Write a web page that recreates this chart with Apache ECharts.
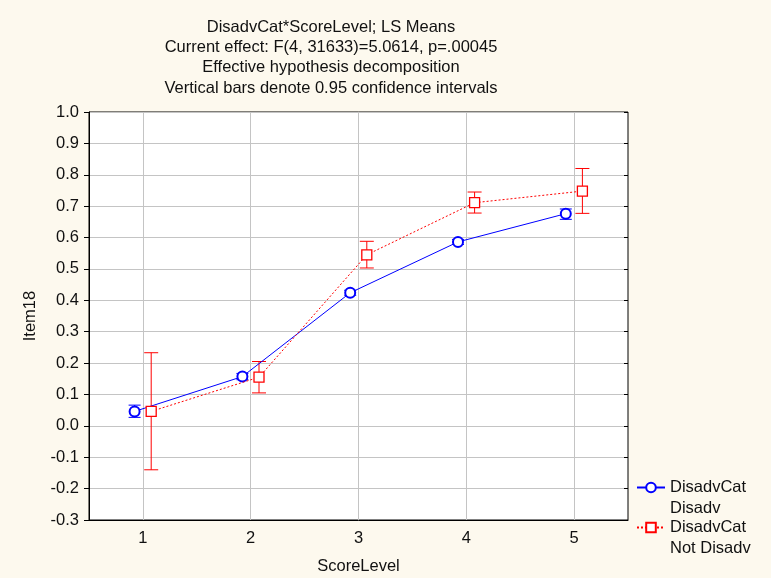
<!DOCTYPE html>
<html><head><meta charset="utf-8">
<script src="https://cdn.jsdelivr.net/npm/echarts@6/dist/echarts.min.js"></script>
<style>html,body{margin:0;padding:0;background:#fdf9ee}#c{width:771px;height:578px}</style>
</head><body><div id="c"></div>
<script>
const titleLines = [
  'DisadvCat*ScoreLevel; LS Means',
  'Current effect: F(4, 31633)=5.0614, p=.00045',
  'Effective hypothesis decomposition',
  'Vertical bars denote 0.95 confidence intervals'
];
const scoreLevels = [1, 2, 3, 4, 5];
const seriesNames = ['DisadvCat\nDisadv', 'DisadvCat\nNot Disadv'];
const disadvMean = [0.046, 0.157, 0.424, 0.586, 0.676];
const disadvLow = [0.027, 0.147, 0.416, 0.578, 0.658];
const disadvHigh = [0.066, 0.167, 0.432, 0.594, 0.691];
const notDisadvMean = [0.046, 0.155, 0.545, 0.711, 0.748];
const notDisadvLow = [-0.140, 0.105, 0.503, 0.678, 0.677];
const notDisadvHigh = [0.233, 0.205, 0.588, 0.745, 0.820];

const DODGE = 0.077;
const FONT = 'Liberation Sans, Arial, sans-serif';
const FS = 16.5;
const TXT = '#111';

function errRender(color, halfCap) {
  return function (params, api) {
    const x = api.value(0);
    const lo = api.coord([x, api.value(1)]);
    const hi = api.coord([x, api.value(2)]);
    const st = { stroke: color, lineWidth: 1 };
    return {
      type: 'group',
      children: [
        { type: 'line', shape: { x1: lo[0], y1: lo[1], x2: hi[0], y2: hi[1] }, style: st },
        { type: 'line', shape: { x1: lo[0] - halfCap, y1: lo[1], x2: lo[0] + halfCap, y2: lo[1] }, style: st },
        { type: 'line', shape: { x1: hi[0] - halfCap, y1: hi[1], x2: hi[0] + halfCap, y2: hi[1] }, style: st }
      ]
    };
  };
}

const chart = echarts.init(document.getElementById('c'));
chart.setOption({
  animation: false,
  backgroundColor: '#fdf9ee',
  title: {
    text: titleLines.join('\n'),
    left: 331, top: 17, padding: 0, textAlign: 'center',
    textStyle: { fontFamily: FONT, fontSize: FS, fontWeight: 'normal', color: TXT, lineHeight: 20.3 }
  },
  legend: {
    data: seriesNames,
    formatter: name => '\n' + name,
    orient: 'vertical', left: 636, top: 456, padding: 0,
    itemWidth: 28, itemHeight: 12, itemGap: -23,
    textStyle: { fontFamily: FONT, fontSize: FS, color: TXT, lineHeight: 21 }
  },
  grid: { left: 89, top: 112, right: 143, bottom: 58, outerBoundsMode: 'none', containLabel: false,
    show: true, backgroundColor: '#fff', borderColor: '#000', borderWidth: 1 },
  xAxis: [{
    type: 'value', min: 0.5, max: 5.5, position: 'bottom',
    name: 'ScoreLevel', nameLocation: 'middle', nameGap: 38,
    nameTextStyle: { fontFamily: FONT, fontSize: FS, color: TXT },
    axisLine: { show: true, onZero: false, lineStyle: { color: '#000' } },
    axisTick: { show: true, inside: true, length: 4, customValues: scoreLevels, lineStyle: { color: '#000' } },
    axisLabel: { customValues: scoreLevels, margin: 10, fontFamily: FONT, fontSize: FS, color: TXT },
    splitLine: { show: false }
  }, {
    type: 'value', min: 0.5, max: 5.5, position: 'top',
    axisLine: { show: false, onZero: false },
    axisTick: { show: true, inside: true, length: 4, customValues: scoreLevels, lineStyle: { color: '#000' } },
    axisLabel: { show: false },
    splitLine: { show: false }
  }],
  yAxis: [{
    type: 'value', min: -0.3, max: 1.0, interval: 0.1,
    name: 'Item18', nameLocation: 'middle', nameGap: 50,
    nameTextStyle: { fontFamily: FONT, fontSize: FS, color: TXT },
    axisLine: { show: true, onZero: false, lineStyle: { color: '#000' } },
    axisTick: { show: true, inside: false, length: 5, lineStyle: { color: '#000' } },
    axisLabel: { margin: 10, fontFamily: FONT, fontSize: FS, color: TXT,
      formatter: v => (Math.abs(v) < 1e-9 ? 0 : v).toFixed(1) },
    splitLine: { show: true, lineStyle: { color: '#c4c4c4', width: 1 } }
  }, {
    type: 'value', min: -0.3, max: 1.0, interval: 0.1, position: 'right',
    axisLine: { show: false, onZero: false },
    axisTick: { show: true, inside: true, length: 4, lineStyle: { color: '#000' } },
    axisLabel: { show: false },
    splitLine: { show: false }
  }],
  series: [{
    name: seriesNames[0], type: 'line',
    data: scoreLevels.map((c, i) => [c - DODGE, disadvMean[i]]),
    symbol: 'emptyCircle', symbolSize: 10,
    lineStyle: { color: '#0000ff', width: 1 },
    itemStyle: { color: '#0000ff', borderWidth: 1.3 },
    z: 3,
    markLine: {
      silent: true, symbol: 'none', z: 1, animation: false,
      label: { show: false },
      lineStyle: { color: '#c4c4c4', type: 'solid', width: 1 },
      emphasis: { disabled: true },
      data: scoreLevels.map(v => ({ xAxis: v }))
    }
  }, {
    name: seriesNames[1], type: 'line',
    data: scoreLevels.map((c, i) => [c + DODGE, notDisadvMean[i]]),
    symbol: 'rect', symbolSize: 10,
    lineStyle: { color: '#ff0000', width: 1, type: [2, 2] },
    itemStyle: { color: '#fff', borderColor: '#ff0000', borderWidth: 1.3 },
    z: 4
  }, {
    name: seriesNames[0], type: 'custom',
    renderItem: errRender('#0000ff', 6),
    encode: { x: 0, y: [1, 2] },
    data: scoreLevels.map((c, i) => [c - DODGE, disadvLow[i], disadvHigh[i]]),
    z: 2
  }, {
    name: seriesNames[1], type: 'custom',
    renderItem: errRender('#ff0000', 7),
    encode: { x: 0, y: [1, 2] },
    data: scoreLevels.map((c, i) => [c + DODGE, notDisadvLow[i], notDisadvHigh[i]]),
    z: 2
  }]
});
</script>
</body></html>
